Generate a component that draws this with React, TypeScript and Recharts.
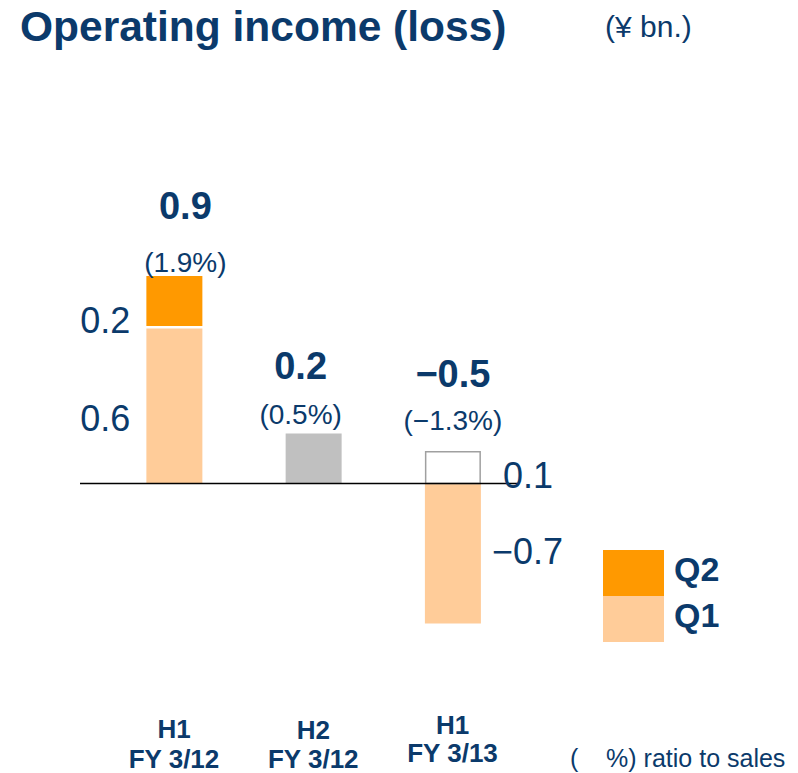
import React from 'react';
import { BarChart, Bar, XAxis, YAxis, ReferenceLine, LabelList, Legend } from 'recharts';

// ---- data ----
const periodTop = ['H1', 'H2', 'H1'];
const periodBottom = ['FY 3/12', 'FY 3/12', 'FY 3/13'];
const q1Values = [0.62, null, -0.56];
const q2Values = [0.21, null, 0.13];
const h2Values = [null, 0.2, null];
const totalLabels = ['0.9', '0.2', '\u22120.5'];
const ratioLabels = ['(1.9%)', '(0.5%)', '(\u22121.3%)'];
const q1Labels = ['0.6', '', '\u22120.7'];
const q2Labels = ['0.2', '', '0.1'];

const data = periodTop.map((p, i) => ({
  x: i,
  q1: q1Values[i],
  q2: q2Values[i],
  h2: h2Values[i],
}));

// ---- styles ----
const NAVY = '#0b3a6b';
const ORANGE = '#ff9900';
const LIGHT = '#ffcc99';
const GRAY = '#c0c0c0';
const FONT = '"Liberation Sans", Arial, sans-serif';

// per-bar label nudges (layout only)
const totalRise = [57, 55, 64];
const ratioRise = [4, 10, 21];
const labelShiftX = [11, -13, 0];
const tickTopDy = [29.5, 30.5, 25.5];
const tickBottomDy = [59.5, 59.5, 53.5];

const Q2Shape = (props: any) => {
  const { x, y, width, height, payload } = props;
  const top = Math.min(y, y + height);
  const h = Math.abs(height);
  if (!h) return null;
  if (payload && payload.q1 < 0) {
    return (
      <rect x={x + 0.75} y={top + 0.75} width={width - 1.5} height={h - 0.75}
        fill="#ffffff" stroke="#a0a0a0" strokeWidth={1.5} />
    );
  }
  return <rect x={x} y={top} width={width} height={Math.max(0, h - 2.5)} fill={ORANGE} />;
};

const TotalTexts = ({ i, cx, top }: { i: number; cx: number; top: number }) => (
  <g>
    <text x={cx} y={top - totalRise[i]} textAnchor="middle" fill={NAVY}
      fontFamily={FONT} fontWeight="bold" fontSize={38}>{totalLabels[i]}</text>
    <text x={cx} y={top - ratioRise[i]} textAnchor="middle" fill={NAVY}
      fontFamily={FONT} fontSize={28}>{ratioLabels[i]}</text>
  </g>
);

const TopLabels = (props: any) => {
  const { x, y, width, height, value } = props;
  const i = Number(value);
  if (x == null || q2Values[i] == null) return null;
  const top = Math.min(y, y + height);
  const bottom = Math.max(y, y + height);
  const cx = x + width / 2 + labelShiftX[i];
  return (
    <g>
      <TotalTexts i={i} cx={cx} top={top} />
      {i === 0 ? (
        <text x={x - 16} y={bottom + 4} textAnchor="end" fill={NAVY} fontFamily={FONT} fontSize={36}>{q2Labels[i]}</text>
      ) : (
        <text x={x + width + 22} y={bottom + 4} textAnchor="start" fill={NAVY} fontFamily={FONT} fontSize={36}>{q2Labels[i]}</text>
      )}
    </g>
  );
};

const H2Labels = (props: any) => {
  const { x, y, width, height, value } = props;
  const i = Number(value);
  if (x == null || h2Values[i] == null) return null;
  const top = Math.min(y, y + height);
  const cx = x + width / 2 + labelShiftX[i];
  return <TotalTexts i={i} cx={cx} top={top} />;
};

const Q1Labels = (props: any) => {
  const { x, y, width, height, value } = props;
  const i = Number(value);
  if (x == null || q1Values[i] == null || !q1Labels[i]) return null;
  const top = Math.min(y, y + height);
  const bottom = Math.max(y, y + height);
  const cy = (top + bottom) / 2;
  if ((q1Values[i] as number) > 0) {
    return <text x={x - 16} y={cy + 25} textAnchor="end" fill={NAVY} fontFamily={FONT} fontSize={36}>{q1Labels[i]}</text>;
  }
  return <text x={x + width + 11} y={cy + 10} textAnchor="start" fill={NAVY} fontFamily={FONT} fontSize={36}>{q1Labels[i]}</text>;
};

const PeriodTick = (props: any) => {
  const { x, y, payload } = props;
  const i = payload.value as number;
  return (
    <g>
      <text x={x} y={y + tickTopDy[i]} textAnchor="middle" fill={NAVY} fontFamily={FONT} fontWeight="bold" fontSize={26}>{periodTop[i]}</text>
      <text x={x} y={y + tickBottomDy[i]} textAnchor="middle" fill={NAVY} fontFamily={FONT} fontWeight="bold" fontSize={26}>{periodBottom[i]}</text>
    </g>
  );
};

const LegendContent = (props: any) => {
  const items = (props.payload || []).filter((p: any) => p.type !== 'none').slice().reverse();
  return (
    <div>
      {items.map((it: any) => (
        <div key={it.value} style={{ display: 'flex', alignItems: 'center', height: 46 }}>
          <div style={{ width: 61, height: 46, background: it.color }} />
          <div style={{ marginLeft: 10, marginTop: -8, fontFamily: FONT, fontWeight: 'bold', fontSize: 34, color: NAVY, lineHeight: '34px' }}>{it.value}</div>
        </div>
      ))}
    </div>
  );
};

export default function App() {
  return (
    <div style={{ position: 'absolute', left: 0, top: 0, width: 798, height: 773, background: '#fff' }}>
      <div style={{ position: 'absolute', left: 20, top: 5, fontFamily: FONT, fontWeight: 'bold', fontSize: 42.5, lineHeight: '43px', color: NAVY, whiteSpace: 'nowrap' }}>
        Operating income (loss)
      </div>
      <div style={{ position: 'absolute', left: 605, top: 12, fontFamily: FONT, fontSize: 30, lineHeight: '30px', color: NAVY, whiteSpace: 'nowrap' }}>
        (¥ bn.)
      </div>
      <div style={{ position: 'absolute', left: 570, top: 746, fontFamily: FONT, fontSize: 25, lineHeight: '25px', color: NAVY, whiteSpace: 'pre' }}>
        {'(    %) ratio to sales'}
      </div>
      <BarChart
        width={798}
        height={773}
        data={data}
        stackOffset="sign"
        margin={{ top: 108.5, right: 280, bottom: 34.5, left: 80 }}
        style={{ position: 'absolute', left: 0, top: 0 }}
      >
        <XAxis
          dataKey="x"
          type="number"
          domain={[-0.675, 2.47]}
          allowDataOverflow
          ticks={[0, 1, 2]}
          interval={0}
          axisLine={false}
          tickLine={false}
          tickSize={0}
          tickMargin={0}
          height={30}
          tick={<PeriodTick />}
        />
        <YAxis hide domain={[-0.9, 1.5]} allowDataOverflow />
        <Bar dataKey="q1" name="Q1" stackId="s" fill={LIGHT} barSize={56} isAnimationActive={false}>
          <LabelList dataKey="x" content={<Q1Labels />} />
        </Bar>
        <Bar dataKey="q2" name="Q2" stackId="s" fill={ORANGE} barSize={56} shape={<Q2Shape />} isAnimationActive={false}>
          <LabelList dataKey="x" content={<TopLabels />} />
        </Bar>
        <Bar dataKey="h2" name="H2" stackId="s" fill={GRAY} barSize={56} legendType="none" isAnimationActive={false}>
          <LabelList dataKey="x" content={<H2Labels />} />
        </Bar>
        <ReferenceLine y={0} stroke="#000" strokeWidth={1.5} />
        <Legend
          layout="horizontal"
          verticalAlign="middle"
          align="center"
          content={<LegendContent />}
          wrapperStyle={{ position: 'absolute', left: 603, top: 550, width: 150, height: 92 }}
        />
      </BarChart>
    </div>
  );
}
